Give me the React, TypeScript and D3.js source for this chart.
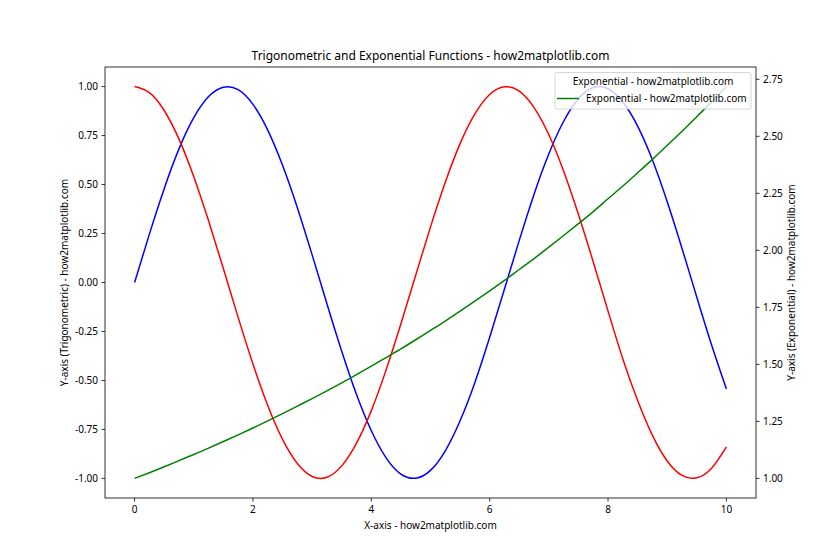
import React, { useEffect } from "react";
import * as d3 from "d3";

const xValues = [0, 0.25, 0.5, 0.75, 1, 1.25, 1.5, 1.75, 2, 2.25, 2.5, 2.75, 3, 3.25, 3.5, 3.75, 4, 4.25, 4.5, 4.75, 5, 5.25, 5.5, 5.75, 6, 6.25, 6.5, 6.75, 7, 7.25, 7.5, 7.75, 8, 8.25, 8.5, 8.75, 9, 9.25, 9.5, 9.75, 10];
const sinValues = [0, 0.247, 0.479, 0.682, 0.841, 0.949, 0.997, 0.984, 0.909, 0.778, 0.598, 0.382, 0.141, -0.108, -0.351, -0.572, -0.757, -0.895, -0.978, -0.999, -0.959, -0.859, -0.706, -0.51, -0.279, -0.033, 0.215, 0.451, 0.657, 0.823, 0.938, 0.995, 0.989, 0.921, 0.798, 0.625, 0.412, 0.174, -0.075, -0.319, -0.544];
const cosValues = [1, 0.969, 0.878, 0.732, 0.54, 0.315, 0.071, -0.178, -0.416, -0.628, -0.801, -0.924, -0.99, -0.994, -0.936, -0.82, -0.654, -0.446, -0.211, 0.037, 0.284, 0.512, 0.709, 0.861, 0.96, 0.999, 0.977, 0.893, 0.754, 0.568, 0.347, 0.105, -0.146, -0.39, -0.602, -0.78, -0.911, -0.985, -0.997, -0.948, -0.839];
const expValues = [1, 1.025, 1.051, 1.078, 1.105, 1.133, 1.162, 1.191, 1.221, 1.252, 1.284, 1.317, 1.35, 1.384, 1.419, 1.455, 1.492, 1.53, 1.568, 1.608, 1.649, 1.69, 1.733, 1.777, 1.822, 1.868, 1.916, 1.964, 2.014, 2.065, 2.117, 2.17, 2.226, 2.282, 2.34, 2.399, 2.46, 2.522, 2.586, 2.651, 2.718];

const xTicks = [0, 2, 4, 6, 8, 10];
const leftTicks = [-1, -0.75, -0.5, -0.25, 0, 0.25, 0.5, 0.75, 1];
const rightTicks = [1, 1.25, 1.5, 1.75, 2, 2.25, 2.5, 2.75];

const titleText = "Trigonometric and Exponential Functions - how2matplotlib.com";
const xLabel = "X-axis - how2matplotlib.com";
const yLeftLabel = "Y-axis (Trigonometric) - how2matplotlib.com";
const yRightLabel = "Y-axis (Exponential) - how2matplotlib.com";
const legendTitle = "Exponential - how2matplotlib.com";
const legendLabel = "Exponential - how2matplotlib.com";

const FONT = "'Noto Sans', 'DejaVu Sans', sans-serif";

export default function App() {
  useEffect(() => {
    document.body.style.margin = "0";
  }, []);

  const W = 840, H = 560;
  const L = 105, R = 756, T = 67, B = 498;

  const x = d3.scaleLinear().domain([-0.5, 10.5]).range([L, R]);
  const yL = d3.scaleLinear().domain([-1.1, 1.1]).range([B, T]);
  const expMin = d3.min(expValues)!, expMax = d3.max(expValues)!;
  const pad = (expMax - expMin) * 0.05;
  const yR = d3.scaleLinear().domain([expMin - pad, expMax + pad]).range([B, T]);

  const mk = (ys: number[], sc: d3.ScaleLinear<number, number>) =>
    d3.line<number>().x((_, i) => x(xValues[i])).y((d) => sc(d)).curve(d3.curveNatural)(ys) || "";

  const lx = 555, ly = 72.5, lw = 196, lh = 36.5;

  return (
    <svg width={W} height={H} style={{ position: "absolute", left: 0, top: 0, background: "#fff" }} fontFamily={FONT}>
      <rect x={0} y={0} width={W} height={H} fill="#fff" />
      <defs>
        <clipPath id="clip"><rect x={L} y={T} width={R - L} height={B - T} /></clipPath>
      </defs>
      <g clipPath="url(#clip)">
        <path d={mk(sinValues, yL)} fill="none" stroke="#0000ff" strokeWidth={1.5} />
        <path d={mk(cosValues, yL)} fill="none" stroke="#ff0000" strokeWidth={1.5} />
        <path d={mk(expValues, yR)} fill="none" stroke="#008000" strokeWidth={1.5} />
      </g>
      <rect x={L} y={T} width={R - L} height={B - T} fill="none" stroke="#000" strokeWidth={0.8} />
      {xTicks.map((t) => (
        <g key={"x" + t}>
          <line x1={x(t)} x2={x(t)} y1={B} y2={B + 3.5} stroke="#000" strokeWidth={0.8} />
          <text x={x(t)} y={B + 15} textAnchor="middle" fontSize={10}>{t}</text>
        </g>
      ))}
      {leftTicks.map((t) => (
        <g key={"l" + t}>
          <line x1={L - 3.5} x2={L} y1={yL(t)} y2={yL(t)} stroke="#000" strokeWidth={0.8} />
          <text x={L - 7} y={yL(t)} dy="0.35em" textAnchor="end" fontSize={10}>{t.toFixed(2)}</text>
        </g>
      ))}
      {rightTicks.map((t) => (
        <g key={"r" + t}>
          <line x1={R} x2={R + 3.5} y1={yR(t)} y2={yR(t)} stroke="#000" strokeWidth={0.8} />
          <text x={R + 7} y={yR(t)} dy="0.35em" textAnchor="start" fontSize={10}>{t.toFixed(2)}</text>
        </g>
      ))}
      <text x={(L + R) / 2} y={60} textAnchor="middle" fontSize={12}>{titleText}</text>
      <text x={(L + R) / 2} y={529} textAnchor="middle" fontSize={10}>{xLabel}</text>
      <text transform={`translate(68,${(T + B) / 2}) rotate(-90)`} textAnchor="middle" fontSize={10}>{yLeftLabel}</text>
      <text transform={`translate(795,${(T + B) / 2}) rotate(-90)`} textAnchor="middle" fontSize={10}>{yRightLabel}</text>
      <g>
        <rect x={lx} y={ly} width={lw} height={lh} rx={2} fill="#fff" fillOpacity={0.8} stroke="#cccccc" strokeWidth={0.8} />
        <text x={lx + lw / 2} y={ly + 12} textAnchor="middle" fontSize={10}>{legendTitle}</text>
        <line x1={lx + 2} x2={lx + 24} y1={ly + 26} y2={ly + 26} stroke="#008000" strokeWidth={1.5} />
        <text x={lx + 31} y={ly + 29.5} textAnchor="start" fontSize={10}>{legendLabel}</text>
      </g>
    </svg>
  );
}
